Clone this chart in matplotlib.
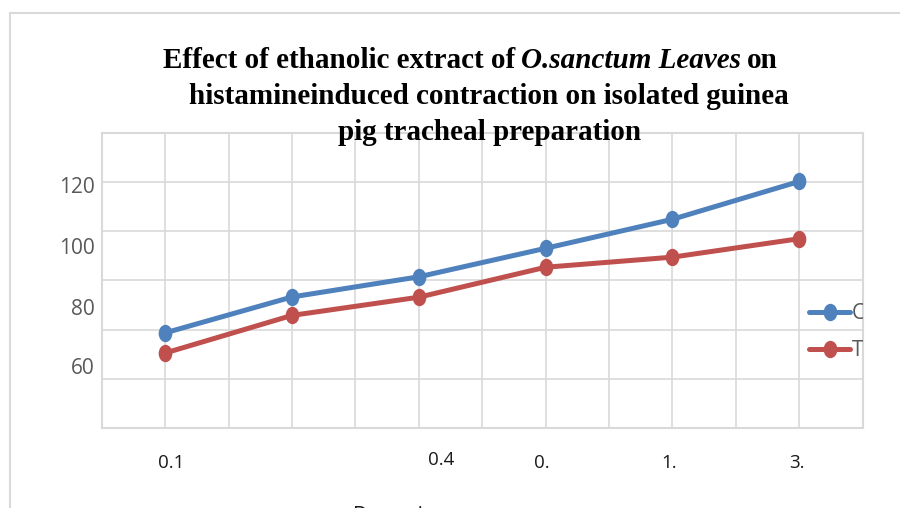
import numpy as np
import matplotlib
matplotlib.use("Agg")
import matplotlib.pyplot as plt
from matplotlib.path import Path
from matplotlib.patches import Rectangle
from matplotlib.transforms import Affine2D, blended_transform_factory

# Data (gridlines every 20 units)
doses = ['0.1', '', '0.4', '0.', '1.', '3.']
control = [58.7, 73.3, 81.5, 93.1, 104.9, 120.3]
test = [50.5, 65.8, 73.2, 85.4, 89.5, 97.0]
series_names = ['Control', 'Test']

# y labels as they sit in the picture (shifted relative to gridlines)
ytick_labels = ['120', '100', '80', '60']
ytick_pos = [118.8, 94.1, 69.2, 45.1]

BLUE = '#4F81BD'
RED = '#C0504D'
GRID = '#D9D9D9'

W, H = 900, 508
fig = plt.figure(figsize=(9, 5.08), dpi=100)

# outer chart border (runs off the right and bottom edges)
fig.patches.append(Rectangle((10 / W, -0.1), 1.0, 1 - 13 / H + 0.1,
                             transform=fig.transFigure, fill=False,
                             edgecolor=GRID, linewidth=1.5))

ax = fig.add_axes([101.7 / W, 1 - 428 / H, (862.7 - 101.7) / W, (428 - 133) / H])
ax.set_xlim(-0.5, 5.5)
ax.set_ylim(20, 140)

# gridlines: horizontal every 20, vertical every half category
ax.set_yticks(np.arange(20, 141, 20), minor=True)
ax.set_xticks(np.arange(-0.5, 5.6, 0.5), minor=True)
ax.grid(True, which='minor', color=GRID, linewidth=1.2)
ax.set_axisbelow(True)
for s in ax.spines.values():
    s.set_color(GRID)
    s.set_linewidth(1.5)
ax.tick_params(which='both', length=0)

ax.set_yticks(ytick_pos)
ax.set_yticklabels(ytick_labels, fontfamily='Open Sans', fontsize=15, color='#595959')
ax.tick_params(axis='y', pad=5)
ax.set_xticks([])

# slightly tall ellipse marker like the original
circ = Path.unit_circle()
marker = circ.transformed(Affine2D().scale(1.0, 1.3))

x = np.arange(len(doses))
ax.plot(x, control, color=BLUE, linewidth=3.6, marker=marker, markersize=11.5,
        label=series_names[0], solid_capstyle='round')
ax.plot(x, test, color=RED, linewidth=3.6, marker=marker, markersize=11.5,
        label=series_names[1], solid_capstyle='round')

# x category labels (placed under the categories, 0.4 sits a bit off)
trans = blended_transform_factory(ax.transData, ax.transAxes)
xoff = [0.05, 0, 0.18, -0.03, -0.03, -0.02]
yoff = [-0.118, -0.118, -0.108, -0.118, -0.118, -0.118]
for i, lab in enumerate(doses):
    if lab:
        ax.text(i + xoff[i], yoff[i], lab, transform=trans, ha='center', va='center',
                fontfamily='Open Sans', fontsize=13.5, color='#1a1a1a')

# axis title cut off at the bottom of the picture
fig.text(353 / W, 1 - 506 / H, 'Doses in mcg', ha='left', va='top',
         fontfamily='Open Sans', fontsize=15, color='#1a1a1a')

# legend, clipped at the chart edge like the reference
leg = fig.legend(loc='center left', bbox_to_anchor=(790 / W, 1 - 332 / H),
                 frameon=False, handlelength=2.0, handletextpad=0.05,
                 labelspacing=0.75, prop={'family': 'Open Sans', 'size': 15})
clip = Rectangle((0, 0), 863 / W, 1, transform=fig.transFigure)
for t in leg.get_texts():
    t.set_color('#595959')
    t.set_clip_path(clip)

# title: three lines, first line has an italic species name
renderer = fig.canvas.get_renderer()
tkw = dict(fontfamily='Liberation Serif', fontweight='bold', fontsize=21,
           color='black', va='center', ha='left')
y1 = 1 - 60 / H
t1 = fig.text(163 / W, y1, 'Effect of ethanolic extract of', **tkw)
bb = t1.get_window_extent(renderer)
t2 = fig.text((bb.x1 + 6) / W, y1, 'O.sanctum Leaves', fontstyle='italic', **tkw)
bb = t2.get_window_extent(renderer)
fig.text((bb.x1 + 6) / W, y1, 'on', **tkw)
fig.text(189 / W, 1 - 97 / H, 'histamineinduced contraction on isolated guinea', **tkw)
fig.text(338 / W, 1 - 132 / H, 'pig tracheal preparation', **tkw)

fig.savefig('out.png', dpi=100)
